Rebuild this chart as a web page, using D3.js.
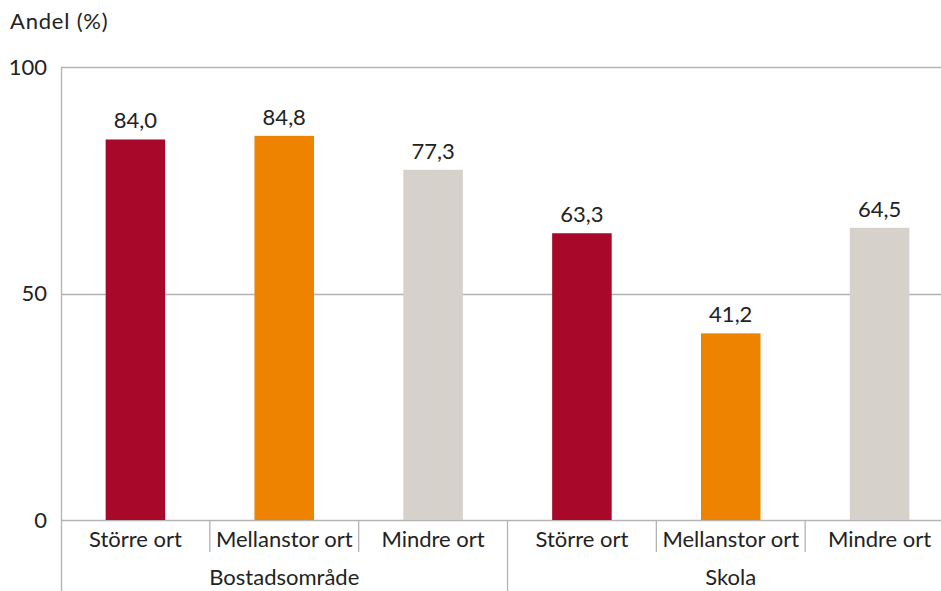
<!DOCTYPE html>
<html>
<head>
<meta charset="utf-8">
<script src="https://cdn.jsdelivr.net/npm/d3@7"></script>
<style>
body { margin: 0; background: #fff; }
text { font-family: Lato, "Open Sans", sans-serif; fill: #222; }
</style>
</head>
<body>
<script>
var w = 941;
var h = 591;

var groups = ["Bostadsområde", "Skola"];
var places = ["Större ort", "Mellanstor ort", "Mindre ort"];
var bostad = [84.0, 84.8, 77.3];
var skola = [63.3, 41.2, 64.5];
var yTicks = [0, 50, 100];
var colors = ["#a8092a", "#ee8300", "#d6d1cb"];

var series = [bostad, skola];
var rows = [];
groups.forEach(function(g, gi) {
    places.forEach(function(p, pi) {
	rows.push({ group: g, place: p, pi: pi, value: series[gi][pi], key: g + "|" + p });
    });
});

var sv = d3.formatLocale({ decimal: ",", thousands: " ", grouping: [3], currency: ["", " kr"] });
var fmt = sv.format(".1f");

var padL = 61, padR = 954, padTop = 67, base = 520;

var x = d3.scaleBand()
    .domain(rows.map(function(d) { return d.key; }))
    .range([padL, padR])
    .paddingInner(0.6)
    .paddingOuter(0.3);
var y = d3.scaleLinear()
    .domain([0, 100])
    .range([base, padTop]);

var svg = d3.select("body").append("svg")
    .attr("width", w)
    .attr("height", h);

// grid lines
svg.selectAll("line.grid")
    .data(yTicks)
    .enter()
    .append("line")
    .attr("class", "grid")
    .attr("x1", padL)
    .attr("x2", w)
    .attr("y1", function(d) { return Math.round(y(d)) + 0.5; })
    .attr("y2", function(d) { return Math.round(y(d)) + 0.5; })
    .attr("stroke", "#b3b3b3")
    .attr("stroke-width", 1.3);

svg.selectAll("rect")
    .data(rows)
    .enter()
    .append("rect")
    .attr("x", function(d) { return x(d.key); })
    .attr("y", function(d) { return y(d.value); })
    .attr("width", x.bandwidth())
    .attr("height", function(d) { return base - y(d.value); })
    .attr("fill", function(d) { return colors[d.pi]; });

svg.selectAll("text.val")
    .data(rows)
    .enter()
    .append("text")
    .attr("class", "val")
    .text(function(d) { return fmt(d.value); })
    .attr("x", function(d) { return x(d.key) + x.bandwidth() / 2; })
    .attr("y", function(d) { return y(d.value) - 11; })
    .attr("text-anchor", "middle")
    .attr("font-size", "22px");

// y axis
var yAxis = d3.axisLeft(y)
    .tickValues(yTicks)
    .tickSize(0)
    .tickPadding(14);
var ya = svg.append("g")
    .attr("transform", "translate(" + padL + ",0)")
    .call(yAxis);
ya.select(".domain").remove();
ya.selectAll("text")
    .attr("font-size", "22px")
    .style("font-family", "Lato, sans-serif")
    .attr("fill", "#222");

svg.append("line")
    .attr("x1", padL + 0.5).attr("x2", padL + 0.5)
    .attr("y1", padTop).attr("y2", h)
    .attr("stroke", "#b3b3b3")
    .attr("stroke-width", 1.3);

// category separators
var step = x.step();
svg.selectAll("line.sep")
    .data(rows.slice(1))
    .enter()
    .append("line")
    .attr("class", "sep")
    .attr("x1", function(d) { return x(d.key) - step * 0.3; })
    .attr("x2", function(d) { return x(d.key) - step * 0.3; })
    .attr("y1", base)
    .attr("y2", function(d) { return d.pi == 0 ? h : base + 32; })
    .attr("stroke", "#b3b3b3")
    .attr("stroke-width", 1.3);

svg.selectAll("text.cat")
    .data(rows)
    .enter()
    .append("text")
    .attr("class", "cat")
    .text(function(d) { return d.place; })
    .attr("x", function(d) { return x(d.key) + x.bandwidth() / 2; })
    .attr("y", base + 27)
    .attr("text-anchor", "middle")
    .attr("font-size", "22px");

svg.selectAll("text.grp")
    .data(groups)
    .enter()
    .append("text")
    .attr("class", "grp")
    .text(function(d) { return d; })
    .attr("x", function(d) {
	var first = x(d + "|" + places[0]);
	var last = x(d + "|" + places[places.length - 1]) + x.bandwidth();
	return (first + last) / 2;
    })
    .attr("y", base + 65)
    .attr("text-anchor", "middle")
    .attr("font-size", "22px");

svg.append("text")
    .text("Andel (%)")
    .attr("x", 10)
    .attr("y", 29)
    .attr("font-size", "22px")
    .attr("letter-spacing", "0.8px");
</script>
</body>
</html>
